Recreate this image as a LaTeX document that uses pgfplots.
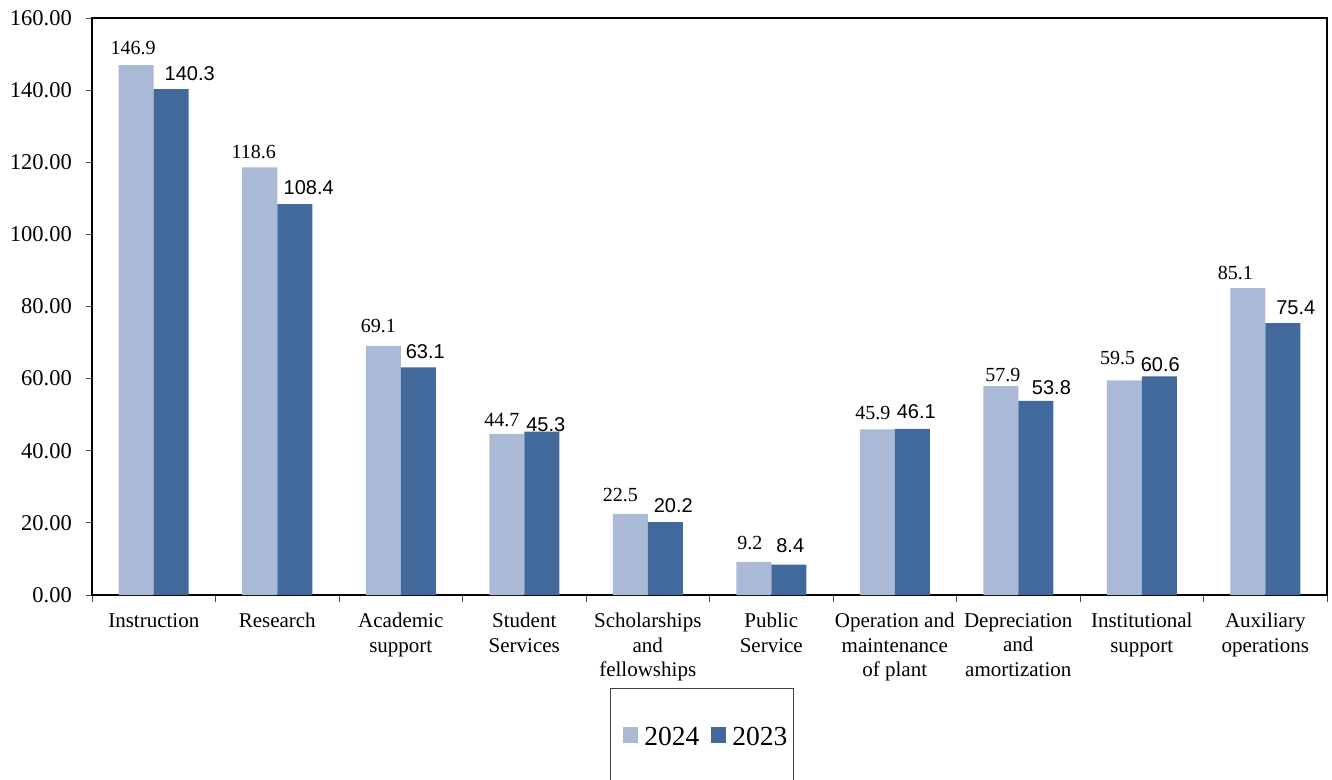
\documentclass[border=0pt]{standalone}
\usepackage{fontspec}
\setmainfont{Liberation Serif}
\newfontfamily\labelsans{Liberation Sans}
\usepackage{pgfplots}
\usepackage{pgfplotstable}
\pgfplotsset{compat=1.18}

\definecolor{bar24}{RGB}{170,185,214}
\definecolor{bar23}{RGB}{65,105,155}

% x = category index, y = expense, dx/dy = label offset (bp)
\pgfplotstableread{
x y dx dy
0 146.9 -3 10
1 118.6 -6 8
2 69.1 -5 12.5
3 44.7 -5 7
4 22.5 -10 11.7
5 9.2 -4 12
6 45.9 -4.5 9
7 57.9 2 4.3
8 59.5 -6.7 15
9 85.1 -12.5 8
}\yearA

\pgfplotstableread{
x y dx dy
0 140.3 18.5 8
1 108.4 14 9
2 63.1 7 9
3 45.3 4 0
4 20.2 8 9
5 8.4 1.5 12
6 46.1 4 10
7 53.8 15.7 6
8 60.6 1 5
9 75.4 13 8
}\yearB

\begin{document}
\begin{tikzpicture}
\begin{axis}[
  scale only axis, width=1235bp, height=577bp,
  at={(0,0)}, anchor=south west,
  xmin=-0.5, xmax=9.5, ymin=0, ymax=160,
  ybar=0pt, bar width=35bp,
  axis line style={black, line width=1.8bp},
  tick pos=left, tick align=outside,
  major tick length=6bp, minor tick length=7bp,
  every tick/.style={black!70, line width=0.9bp},
  xtick={0,...,9},
  minor xtick={-0.5,0.5,...,9.5},
  major x tick style={draw=none},
  xticklabels={Instruction, Research, {Academic\\support}, {Student\\Services},
    {Scholarships\\and\\fellowships}, {Public\\Service}, {Operation and\\maintenance\\of plant},
    {Depreciation\\and\\amortization}, {Institutional\\support}, {Auxiliary\\operations}},
  xticklabel style={font=\fontsize{21bp}{24.5bp}\selectfont, align=center, inner sep=0pt,
    anchor=north, yshift=-12bp},
  ytick={0,20,...,160},
  yticklabel style={font=\fontsize{22.5bp}{27bp}\selectfont, inner sep=0pt, anchor=east,
    xshift=-14bp,
    /pgf/number format/.cd, fixed, fixed zerofill, precision=2, assume math mode=true},
  legend columns=2,
  legend cell align=left,
  legend style={at={(0.4194,-0.1612)}, anchor=north west, draw=black!75, line width=0.8bp,
    font=\fontsize{27.5bp}{33bp}\selectfont, inner xsep=6bp, inner ysep=39bp,
    nodes={inner sep=0pt},
    /tikz/every odd column/.append style={column sep=6bp},
    /tikz/every even column/.append style={column sep=5bp}},
]
\addplot[fill=bar24, draw=none,
  visualization depends on={\thisrow{dx} \as \dx},
  visualization depends on={\thisrow{dy} \as \dy},
  nodes near coords={\pgfmathprintnumber[fixed,fixed zerofill,precision=1,assume math mode=true]{\pgfplotspointmeta}},
  every node near coord/.append style={anchor=south, inner sep=0pt, xshift={\dx bp}, yshift={\dy bp},
    font=\fontsize{20bp}{24bp}\selectfont, text=black},
  legend image code/.code={\path (-7bp,2bp); \fill[bar24] (0bp,-6bp) rectangle (15bp,10bp);}]
  table[x=x, y=y] {\yearA};
\addlegendentry{2024}
\addplot[fill=bar23, draw=none,
  visualization depends on={\thisrow{dx} \as \dx},
  visualization depends on={\thisrow{dy} \as \dy},
  nodes near coords={\pgfmathprintnumber[fixed,fixed zerofill,precision=1,assume math mode=true]{\pgfplotspointmeta}},
  every node near coord/.append style={anchor=south, inner sep=0pt, xshift={\dx bp}, yshift={\dy bp},
    font=\labelsans\fontsize{20bp}{24bp}\selectfont, text=black},
  legend image code/.code={\path (-7bp,2bp); \fill[bar23] (0bp,-6bp) rectangle (15bp,10bp);}]
  table[x=x, y=y] {\yearB};
\addlegendentry{2023}
\end{axis}
\pgfresetboundingbox
\path[use as bounding box] (-92bp,-185bp) rectangle (1240bp,595bp);
\end{tikzpicture}
\end{document}
